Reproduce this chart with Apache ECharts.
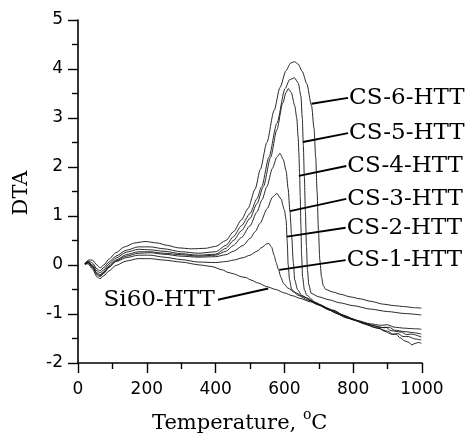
<!DOCTYPE html>
<html>
<head>
<meta charset="utf-8">
<script src="https://cdn.jsdelivr.net/npm/echarts/dist/echarts.min.js"></script>
<style>
html,body{margin:0;padding:0;background:#fff;}
#chart{width:465px;height:440px;}
</style>
</head>
<body>
<div id="chart"></div>
<script>
// ---- data (Temperature in °C, DTA) ----
const cs6 = [[20,0.03],[30,0.1],[42,0.1],[55,0.0],[64,-0.06],[75,0.0],[90,0.12],[110,0.25],[135,0.37],[165,0.45],[195,0.48],[230,0.45],[260,0.4],[291,0.35],[330,0.33],[370,0.34],[400,0.38],[430,0.5],[452,0.68],[475,0.92],[494,1.15],[515,1.55],[530,1.95],[549,2.5],[570,3.15],[587,3.62],[605,3.97],[618,4.12],[629,4.15],[640,4.1],[652,3.95],[665,3.7],[679,3.25],[686,2.8],[691,2.2],[695,1.5],[699,0.7],[703,0.1],[708,-0.25],[713,-0.42],[720,-0.5],[740,-0.55],[765,-0.6],[791,-0.65],[820,-0.69],[850,-0.74],[888,-0.8],[920,-0.83],[950,-0.85],[975,-0.87],[998,-0.88]];
const cs5 = [[20,0.02],[30,0.08],[42,0.04],[55,-0.08],[64,-0.12],[75,-0.05],[90,0.06],[110,0.18],[140,0.3],[175,0.37],[210,0.37],[250,0.33],[300,0.27],[350,0.24],[400,0.27],[430,0.4],[452,0.58],[475,0.8],[500,1.05],[520,1.35],[534,1.6],[555,2.2],[578,2.89],[602,3.6],[615,3.78],[629,3.82],[640,3.72],[648,3.45],[652,3.0],[655,2.45],[658,1.8],[661,1.1],[664,0.4],[667,-0.1],[671,-0.4],[678,-0.58],[700,-0.65],[730,-0.71],[760,-0.77],[800,-0.83],[850,-0.9],[900,-0.95],[950,-0.99],[998,-1.02]];
const cs4 = [[20,0.01],[30,0.06],[42,0.0],[55,-0.12],[64,-0.16],[75,-0.1],[90,0.02],[110,0.14],[140,0.26],[175,0.32],[210,0.31],[250,0.28],[300,0.23],[350,0.2],[400,0.22],[430,0.34],[452,0.5],[475,0.7],[500,0.95],[520,1.25],[539,1.6],[560,2.2],[578,2.76],[595,3.3],[605,3.52],[611,3.6],[620,3.52],[630,3.25],[636,3.0],[640,2.6],[642,2.3],[644,1.9],[646,1.4],[648,0.8],[650,0.2],[653,-0.25],[658,-0.5],[665,-0.62],[690,-0.76],[720,-0.88],[750,-0.98],[780,-1.08],[810,-1.13],[850,-1.2],[880,-1.23],[900,-1.22],[920,-1.27],[950,-1.29],[975,-1.3],[998,-1.31]];
const cs3 = [[20,0.0],[30,0.05],[42,-0.03],[55,-0.16],[64,-0.2],[75,-0.14],[90,-0.02],[110,0.1],[140,0.21],[175,0.27],[210,0.27],[250,0.24],[300,0.21],[350,0.18],[400,0.2],[430,0.28],[452,0.4],[475,0.56],[500,0.8],[520,1.08],[535,1.33],[549,1.6],[565,1.97],[578,2.2],[587,2.28],[597,2.15],[605,1.92],[611,1.55],[616,1.1],[621,0.6],[626,0.05],[630,-0.3],[638,-0.5],[650,-0.62],[680,-0.74],[710,-0.84],[740,-0.94],[770,-1.04],[800,-1.12],[830,-1.19],[860,-1.24],[890,-1.28],[905,-1.27],[920,-1.33],[950,-1.36],[975,-1.38],[998,-1.41]];
const cs2 = [[20,0.02],[30,0.04],[42,-0.05],[55,-0.2],[64,-0.24],[75,-0.17],[90,-0.05],[110,0.08],[140,0.18],[175,0.24],[210,0.25],[250,0.22],[300,0.18],[350,0.16],[400,0.17],[430,0.21],[452,0.28],[480,0.4],[500,0.54],[515,0.68],[529,0.85],[550,1.15],[565,1.38],[578,1.46],[590,1.35],[600,1.12],[605,0.92],[608,0.5],[611,0.0],[615,-0.3],[621,-0.5],[640,-0.62],[670,-0.72],[700,-0.82],[730,-0.92],[760,-1.01],[790,-1.09],[820,-1.16],[850,-1.22],[880,-1.28],[895,-1.27],[910,-1.34],[940,-1.37],[955,-1.42],[970,-1.41],[998,-1.47]];
const cs1 = [[20,0.03],[30,0.06],[42,-0.02],[55,-0.18],[64,-0.22],[75,-0.15],[90,-0.04],[110,0.07],[140,0.15],[175,0.2],[210,0.2],[250,0.16],[300,0.11],[350,0.06],[400,0.05],[430,0.07],[452,0.1],[480,0.15],[500,0.2],[520,0.28],[535,0.36],[548,0.43],[555,0.44],[563,0.36],[570,0.2],[576,0.05],[582,-0.08],[590,-0.25],[597,-0.37],[610,-0.47],[630,-0.56],[660,-0.66],[700,-0.8],[740,-0.93],[780,-1.05],[810,-1.14],[840,-1.22],[870,-1.29],[900,-1.35],[915,-1.41],[930,-1.4],[945,-1.46],[960,-1.46],[980,-1.51],[998,-1.53]];
const si60 = [[20,0.03],[30,0.02],[42,-0.08],[55,-0.24],[64,-0.28],[75,-0.22],[90,-0.12],[110,-0.01],[140,0.08],[175,0.13],[210,0.13],[250,0.1],[300,0.06],[355,0.0],[388,-0.03],[420,-0.1],[436,-0.15],[452,-0.18],[475,-0.24],[490,-0.26],[500,-0.3],[525,-0.37],[548,-0.44],[575,-0.5],[600,-0.57],[625,-0.63],[645,-0.68],[675,-0.75],[700,-0.81],[720,-0.87],[742,-0.92],[771,-1.02],[800,-1.1],[830,-1.19],[860,-1.27],[875,-1.29],[890,-1.35],[915,-1.42],[925,-1.41],[935,-1.48],[950,-1.55],[962,-1.58],[970,-1.63],[980,-1.6],[990,-1.58],[998,-1.6]];

const seriesNames = ['CS-6-HTT','CS-5-HTT','CS-4-HTT','CS-3-HTT','CS-2-HTT','CS-1-HTT','Si60-HTT'];
const seriesData = [cs6, cs5, cs4, cs3, cs2, cs1, si60];

// label anchors (data coords): where the text sits, and where the leader meets the curve
const labelAt = [[785,3.41],[785,2.69],[780,2.02],[780,1.35],[778,0.76],[778,0.1],[398,-0.71]];
const leaderTo = [[679,3.29],[654,2.51],[642,1.82],[616,1.1],[607,0.58],[585,-0.1],[553,-0.48]];

const xTicks = { min: 0, max: 1000, interval: 200 };
const yTicks = { min: -2, max: 5, interval: 1 };

const chart = echarts.init(document.getElementById('chart'), null, {renderer: 'canvas'});

const axisCommon = {
  axisLine: { show: true, onZero: false, lineStyle: { color: '#000', width: 1.6 } },
  axisTick: { show: true, inside: false, length: 10, lineStyle: { color: '#000', width: 1.4 } },
  minorTick: { show: true, splitNumber: 2, length: 6, lineStyle: { color: '#000', width: 1.4 } },
  splitLine: { show: false },
  minorSplitLine: { show: false }
};

chart.setOption({
  animation: false,
  backgroundColor: '#fff',
  grid: { left: 78, right: 43, top: 20, bottom: 77 },
  xAxis: Object.assign({
    type: 'value', min: xTicks.min, max: xTicks.max, interval: xTicks.interval,
    axisLabel: { color: '#000', fontFamily: 'DejaVu Sans', fontSize: 17, margin: 18,
                 formatter: v => String(v) }
  }, axisCommon),
  yAxis: Object.assign({
    type: 'value', min: yTicks.min, max: yTicks.max, interval: yTicks.interval,
    axisLabel: { color: '#000', fontFamily: 'DejaVu Sans', fontSize: 17, margin: 15,
                 formatter: v => String(v) }
  }, axisCommon),
  series: seriesData.map((d, i) => ({
    name: seriesNames[i],
    type: 'line',
    data: d,
    showSymbol: false,
    symbol: 'none',
    smooth: 0.25,
    smoothMonotone: 'x',
    lineStyle: { color: '#111', width: 0.9 },
    z: 2
  }))
});

function buildGraphics() {
  const g = [];
  seriesNames.forEach((name, i) => {
    const a = chart.convertToPixel({gridIndex: 0}, labelAt[i]);
    const b = chart.convertToPixel({gridIndex: 0}, leaderTo[i]);
    const isLeft = i === 6;
    g.push({
      type: 'line',
      shape: { x1: isLeft ? a[0] + 3 : a[0], y1: a[1], x2: b[0], y2: b[1] },
      style: { stroke: '#000', lineWidth: 1.9 },
      z: 10
    });
    g.push({
      type: 'text',
      x: isLeft ? a[0] : a[0] + 1,
      y: a[1],
      style: {
        text: name,
        font: '23px "DejaVu Serif"',
        fill: '#000',
        align: isLeft ? 'right' : 'left',
        verticalAlign: 'middle'
      },
      z: 10
    });
  });
  // axis titles
  g.push({
    type: 'text',
    x: 152, y: 421,
    style: {
      text: '{a|Temperature, }{s|o}{a|C}',
      fill: '#000',
      align: 'left',
      verticalAlign: 'middle',
      rich: {
        a: { fontFamily: 'DejaVu Serif', fontSize: 21, fill: '#000', lineHeight: 26, verticalAlign: 'bottom' },
        s: { fontFamily: 'DejaVu Serif', fontSize: 14, fill: '#000', lineHeight: 26, verticalAlign: 'top' }
      }
    }
  });
  g.push({
    type: 'text',
    x: 22, y: 193,
    rotation: Math.PI / 2,
    style: {
      text: 'DTA',
      font: '21px "DejaVu Serif"',
      fill: '#000',
      align: 'center',
      verticalAlign: 'middle'
    }
  });
  chart.setOption({ graphic: g });
}
buildGraphics();
</script>
</body>
</html>
